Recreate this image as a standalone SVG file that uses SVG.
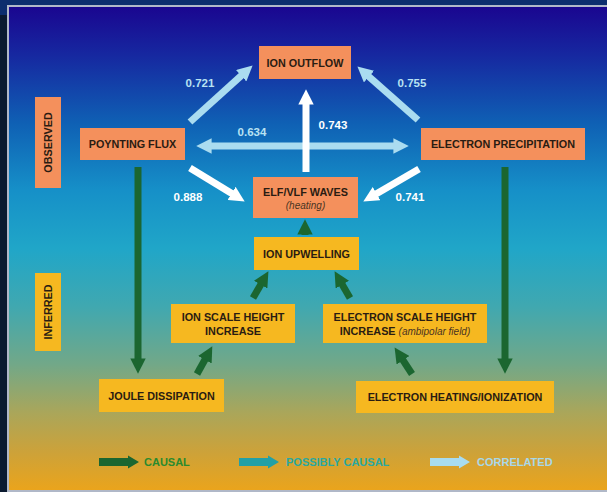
<svg xmlns="http://www.w3.org/2000/svg" width="607" height="492" viewBox="0 0 607 492">
  <defs>
    <linearGradient id="bg" x1="0" y1="0" x2="0" y2="1">
      <stop offset="0" stop-color="#1a0690"/>
      <stop offset="0.1" stop-color="#1628a0"/>
      <stop offset="0.24" stop-color="#0f60b4"/>
      <stop offset="0.38" stop-color="#1690c8"/>
      <stop offset="0.5" stop-color="#20a6c8"/>
      <stop offset="0.62" stop-color="#40a8b0"/>
      <stop offset="0.74" stop-color="#72a888"/>
      <stop offset="0.84" stop-color="#aaa65a"/>
      <stop offset="0.92" stop-color="#cca23a"/>
      <stop offset="1" stop-color="#eaa41c"/>
    </linearGradient>
    <marker id="hLB" viewBox="0 0 10 10" refX="3" refY="5" markerWidth="2.2" markerHeight="2.2" markerUnits="strokeWidth" orient="auto-start-reverse">
      <path d="M0,0 L10,5 L0,10 z" fill="#aadcf0"/>
    </marker>
    <marker id="hW" viewBox="0 0 10 10" refX="3" refY="5" markerWidth="2.2" markerHeight="2.2" markerUnits="strokeWidth" orient="auto">
      <path d="M0,0 L10,5 L0,10 z" fill="#ffffff"/>
    </marker>
    <marker id="hG" viewBox="0 0 10 10" refX="3" refY="5" markerWidth="2.2" markerHeight="2.2" markerUnits="strokeWidth" orient="auto">
      <path d="M0,0 L10,5 L0,10 z" fill="#1b6630"/>
    </marker>
  </defs>
  <style>
    .t { font-family: "Liberation Sans", Arial, sans-serif; font-weight: bold; font-size: 10.8px; fill: #2a1c12; text-anchor: middle; }
    .it { font-family: "Liberation Sans", Arial, sans-serif; font-style: italic; font-weight: normal; font-size: 10px; fill: #4a3422; }
    .obs { fill: #f4905c; }
    .inf { fill: #f6b820; }
    .num { font-family: "Liberation Sans", Arial, sans-serif; font-weight: bold; font-size: 11.5px; text-anchor: middle; }
    .lb { stroke: #aadcf0; stroke-width: 7; fill: none; }
    .wh { stroke: #ffffff; stroke-width: 7; fill: none; }
    .gr { stroke: #1b6630; stroke-width: 7; fill: none; }
    .leg { font-family: "Liberation Sans", Arial, sans-serif; font-weight: bold; font-size: 11px; }
  </style>

  <!-- frame -->
  <rect x="0" y="0" width="607" height="492" fill="#0a1a30"/>
  <rect x="0" y="0" width="607" height="15" fill="#0c2e6e"/>
  <rect x="7" y="5" width="600" height="487" fill="#b0b8c8"/>
  <rect x="9" y="7" width="598" height="483" fill="url(#bg)"/>

  <!-- connectors -->
  <g id="connectors">
    <line class="lb" x1="190" y1="122" x2="244.6" y2="72.7" marker-end="url(#hLB)"/>
    <line class="lb" x1="418" y1="120" x2="365.5" y2="73.6" marker-end="url(#hLB)"/>
    <line class="lb" x1="207" y1="146" x2="398" y2="146" marker-start="url(#hLB)" marker-end="url(#hLB)"/>
    <line class="wh" x1="306" y1="172" x2="306" y2="100" marker-end="url(#hW)"/>
    <line class="wh" x1="190" y1="168" x2="235.5" y2="195.8" marker-end="url(#hW)"/>
    <line class="wh" x1="419" y1="169" x2="372.6" y2="196" marker-end="url(#hW)"/>
    <line class="gr" x1="138" y1="167" x2="138" y2="363" marker-end="url(#hG)"/>
    <line class="gr" x1="505" y1="167" x2="505" y2="363" marker-end="url(#hG)"/>
    <line class="gr" x1="305" y1="235" x2="305" y2="230" marker-end="url(#hG)"/>
    <line class="gr" x1="253" y1="298" x2="263" y2="280.7" marker-end="url(#hG)"/>
    <line class="gr" x1="350" y1="298" x2="340" y2="280.7" marker-end="url(#hG)"/>
    <line class="gr" x1="197" y1="374" x2="207.1" y2="355.7" marker-end="url(#hG)"/>
    <line class="gr" x1="412" y1="374" x2="400.5" y2="356.4" marker-end="url(#hG)"/>
    <text class="num" x="200" y="87" fill="#b8e2f2">0.721</text>
    <text class="num" x="412" y="87" fill="#b8e2f2">0.755</text>
    <text class="num" x="252" y="136" fill="#b8e2f2">0.634</text>
    <text class="num" x="333" y="129" fill="#ffffff">0.743</text>
    <text class="num" x="188" y="201" fill="#ffffff">0.888</text>
    <text class="num" x="410" y="201" fill="#ffffff">0.741</text>
  </g>

  <!-- category labels -->
  <g id="observed">
    <rect class="obs" x="35" y="97" width="26" height="91"/>
    <text class="t" transform="translate(52,142.5) rotate(-90)" x="0" y="0">OBSERVED</text>
  </g>
  <g id="inferred">
    <rect class="inf" x="35" y="273" width="26" height="78"/>
    <text class="t" transform="translate(52,312) rotate(-90)" x="0" y="0">INFERRED</text>
  </g>

  <!-- observed nodes -->
  <g id="ion-outflow">
    <rect class="obs" x="259" y="46" width="92" height="33"/>
    <text class="t" x="305" y="66.5">ION OUTFLOW</text>
  </g>
  <g id="poynting-flux">
    <rect class="obs" x="80" y="128" width="105" height="32"/>
    <text class="t" x="132.5" y="148">POYNTING FLUX</text>
  </g>
  <g id="electron-precipitation">
    <rect class="obs" x="421" y="128" width="164" height="32"/>
    <text class="t" x="503" y="148">ELECTRON PRECIPITATION</text>
  </g>
  <g id="elf-vlf-waves">
    <rect class="obs" x="253" y="177" width="105" height="41"/>
    <text class="t" x="305.5" y="195.5">ELF/VLF WAVES</text>
    <text class="it" x="305.5" y="208.5" text-anchor="middle">(heating)</text>
  </g>

  <!-- inferred nodes -->
  <g id="ion-upwelling">
    <rect class="inf" x="254" y="237" width="105" height="33"/>
    <text class="t" x="306.5" y="257.5">ION UPWELLING</text>
  </g>
  <g id="ion-scale-height">
    <rect class="inf" x="171" y="304" width="124" height="39"/>
    <text class="t" x="233" y="321">ION SCALE HEIGHT</text>
    <text class="t" x="233" y="334.5">INCREASE</text>
  </g>
  <g id="electron-scale-height">
    <rect class="inf" x="323" y="304" width="164" height="39"/>
    <text class="t" x="405" y="321">ELECTRON SCALE HEIGHT</text>
    <text class="t" x="405" y="334.5">INCREASE <tspan class="it">(ambipolar field)</tspan></text>
  </g>
  <g id="joule-dissipation">
    <rect class="inf" x="99" y="379" width="125" height="33"/>
    <text class="t" x="161.5" y="399.5">JOULE DISSIPATION</text>
  </g>
  <g id="electron-heating">
    <rect class="inf" x="356" y="381" width="198" height="32"/>
    <text class="t" x="455" y="401">ELECTRON HEATING/IONIZATION</text>
  </g>

  <!-- legend -->
  <g id="legend">
    <polygon points="99,458 128,458 128,455.5 139,462 128,468.5 128,466 99,466" fill="#1b6630"/>
    <text class="leg" x="144" y="466" fill="#2a8a2e">CAUSAL</text>
    <polygon points="239,458 268,458 268,455.5 279,462 268,468.5 268,466 239,466" fill="#22a0a6"/>
    <text class="leg" x="286" y="466" fill="#2aa8a0">POSSIBLY CAUSAL</text>
    <polygon points="430,458 459,458 459,455.5 470,462 459,468.5 459,466 430,466" fill="#a8dcf0"/>
    <text class="leg" x="477" y="466" fill="#a8d8e8">CORRELATED</text>
  </g>
</svg>
